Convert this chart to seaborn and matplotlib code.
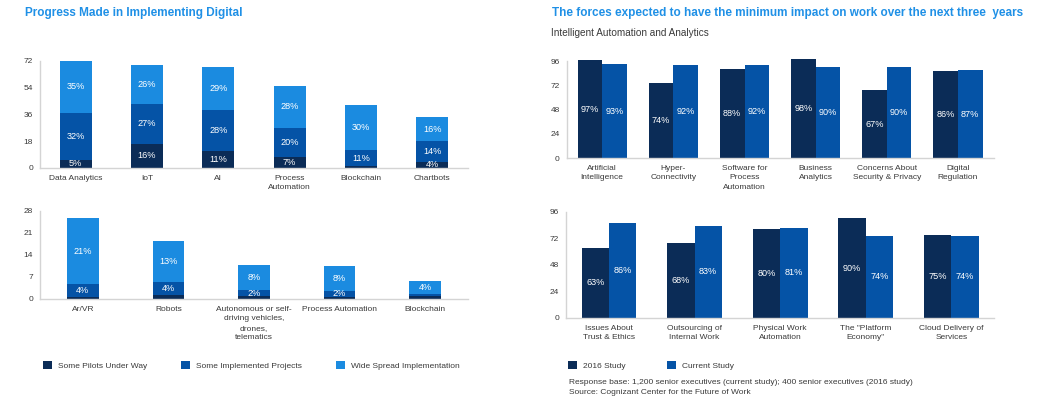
import numpy as np
import pandas as pd
import matplotlib
matplotlib.use("Agg")
import matplotlib.pyplot as plt
import seaborn as sns
from matplotlib.patches import Patch

# ---------------- data ----------------
tl_categories = ["Data Analytics", "IoT", "AI", "Process\nAutomation", "Blockchain", "Chartbots"]
tl_pilots = [5, 16, 11, 7, 1, 4]
tl_implemented = [32, 27, 28, 20, 11, 14]
tl_widespread = [35, 26, 29, 28, 30, 16]

bl_categories = ["Ar/VR", "Robots", "Autonomous or self-\ndriving vehicles,\ndrones,\ntelematics",
                 "Process Automation", "Blockchain"]
bl_pilots = [0.7, 1.3, 0.8, 0.6, 0.8]
bl_implemented = [4, 4, 2, 2, 0.8]
bl_widespread = [21, 13, 8, 8, 4]

stack_labels = ["Some Pilots Under Way", "Some Implemented Projects", "Wide Spread Implementation"]

tr_categories = ["Artificial\nIntelligence", "Hyper-\nConnectivity", "Software for\nProcess\nAutomation",
                 "Business\nAnalytics", "Concerns About\nSecurity & Privacy", "Digital\nRegulation"]
tr_2016 = [97, 74, 88, 98, 67, 86]
tr_current = [93, 92, 92, 90, 90, 87]

br_categories = ["Issues About\nTrust & Ethics", "Outsourcing of\nInternal Work", "Physical Work\nAutomation",
                 "The \"Platform\nEconomy\"", "Cloud Delivery of\nServices"]
br_2016 = [63, 68, 80, 90, 75]
br_current = [86, 83, 81, 74, 74]

study_labels = ["2016 Study", "Current Study"]

# ---------------- style ----------------
NAVY = "#0b2c57"
MID = "#0553a6"
LIGHT = "#1b8be0"
TITLE = "#1f90e6"
TEXT = "#3a3a3a"
AXIS = "#d4d4d4"

sns.set_theme(style="white")
plt.rcParams["font.family"] = ["Liberation Sans", "DejaVu Sans"]

fig = plt.figure(figsize=(10.5, 4.03), dpi=100)
fig.patch.set_facecolor("white")

ax1 = fig.add_axes([0.0381, 0.5839, 0.4076, 0.2648])
ax2 = fig.add_axes([0.0381, 0.2581, 0.4076, 0.2184])
ax3 = fig.add_axes([0.5396, 0.6079, 0.4067, 0.2407])
ax4 = fig.add_axes([0.5392, 0.2117, 0.4076, 0.2630])

FS = 6.0
PFS = 6.6
LS = 1.5


def style_axis(ax, cats, ymax, step):
    ax.set_ylim(0, ymax)
    yt = np.arange(0, ymax + 0.1, step)
    ax.set_yticks(yt, [f"{int(v)}" for v in yt])
    ax.set_xticks(range(len(cats)), cats)
    for s in ["top", "right"]:
        ax.spines[s].set_visible(False)
    for s in ["left", "bottom"]:
        ax.spines[s].set_color(AXIS)
        ax.spines[s].set_linewidth(1.0)
    ax.tick_params(axis="both", length=0, labelsize=FS, colors=TEXT)
    ax.tick_params(axis="y", pad=5)
    ax.tick_params(axis="x", pad=5)
    ax.set_xlabel("")
    ax.set_ylabel("")


def stacked(ax, cats, series, colors, width):
    arr = np.array(series, dtype=float)
    cum = np.cumsum(arr, axis=0)
    n = len(series)
    for k in range(n - 1, -1, -1):
        df = pd.DataFrame({"cat": cats, "val": cum[k]})
        sns.barplot(data=df, x="cat", y="val", order=cats, color=colors[k], saturation=1,
                    width=width, errorbar=None, ax=ax, linewidth=0)
    for k in range(n):
        cont = ax.containers[n - 1 - k]
        for j, p in enumerate(cont.patches):
            v = arr[k][j]
            if v >= 2:
                ax.text(p.get_x() + p.get_width() / 2, cum[k][j] - v / 2, f"{int(round(v))}%",
                        ha="center", va="center", color="white", fontsize=PFS)


def grouped(ax, cats, a, b, width):
    df = pd.DataFrame({"cat": cats * 2, "val": a + b,
                       "study": [study_labels[0]] * len(cats) + [study_labels[1]] * len(cats)})
    sns.barplot(data=df, x="cat", y="val", hue="study", order=cats, hue_order=study_labels,
                palette=[NAVY, MID], saturation=1, width=width, gap=0, dodge=True,
                errorbar=None, ax=ax, linewidth=0, legend=False)
    for cont, vals in zip(ax.containers, [a, b]):
        for p, v in zip(cont.patches, vals):
            p.set_clip_on(False)
            ax.text(p.get_x() + p.get_width() / 2, v / 2, f"{v}%", ha="center", va="center",
                    color="white", fontsize=PFS)


colors3 = [NAVY, MID, LIGHT]
stacked(ax1, tl_categories, [tl_pilots, tl_implemented, tl_widespread], colors3, 0.45)
style_axis(ax1, tl_categories, 72, 18)
stacked(ax2, bl_categories, [bl_pilots, bl_implemented, bl_widespread], colors3, 0.37)
style_axis(ax2, bl_categories, 28, 7)

grouped(ax3, tr_categories, tr_2016, tr_current, 0.69)
style_axis(ax3, tr_categories, 96, 24)
grouped(ax4, br_categories, br_2016, br_current, 0.64)
style_axis(ax4, br_categories, 96, 24)

# ---------------- legends ----------------
h3 = [Patch(facecolor=c, edgecolor="none") for c in colors3]
fig.legend(h3, stack_labels, loc="center left", bbox_to_anchor=(0.041, 0.093), ncol=3,
           frameon=False, fontsize=FS, handlelength=1.1, handleheight=1.0, handletextpad=0.75,
           columnspacing=4.0, borderpad=0, borderaxespad=0, labelcolor=TEXT)
h2 = [Patch(facecolor=c, edgecolor="none") for c in [NAVY, MID]]
fig.legend(h2, study_labels, loc="center left", bbox_to_anchor=(0.541, 0.093), ncol=2,
           frameon=False, fontsize=FS, handlelength=1.1, handleheight=1.0, handletextpad=0.75,
           columnspacing=4.9, borderpad=0, borderaxespad=0, labelcolor=TEXT)

# ---------------- titles & notes ----------------
fig.text(0.0238, 0.968, "Progress Made in Implementing Digital", color=TITLE, fontsize=8.5,
         fontweight="bold", ha="left", va="center")
fig.text(0.5254, 0.968, "The forces expected to have the minimum impact on work over the next three  years",
         color=TITLE, fontsize=8.5, fontweight="bold", ha="left", va="center")
fig.text(0.5248, 0.919, "Intelligent Automation and Analytics", color=TEXT, fontsize=7.2,
         ha="left", va="center")
fig.text(0.542, 0.0504, "Response base: 1,200 senior executives (current study); 400 senior executives (2016 study)",
         color=TEXT, fontsize=FS, ha="left", va="center")
fig.text(0.542, 0.0256, "Source: Cognizant Center for the Future of Work", color=TEXT, fontsize=FS,
         ha="left", va="center")

fig.canvas.draw()
for ax in (ax1, ax2, ax3, ax4):
    for t in ax.get_xticklabels():
        t.set_linespacing(LS)

fig.savefig("out.png", dpi=100, facecolor="white")
